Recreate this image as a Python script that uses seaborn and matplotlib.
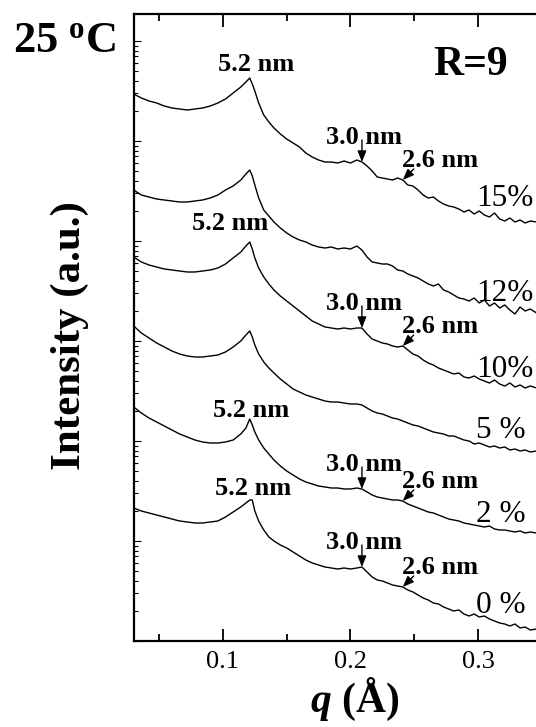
import numpy as np
import pandas as pd
import matplotlib
matplotlib.use("Agg")
import matplotlib.pyplot as plt
from matplotlib.ticker import LogLocator, NullFormatter, FixedLocator
import seaborn as sns

# scattering vector q (1/Angstrom), shared by all samples
q = [0.030, 0.036, 0.042, 0.048, 0.054, 0.060, 0.066, 0.072, 0.078, 0.084,
     0.090, 0.096, 0.102, 0.108, 0.114,
     0.118, 0.121, 0.123, 0.125, 0.128, 0.132, 0.136, 0.140,
     0.145, 0.150, 0.155, 0.160, 0.165, 0.170, 0.175, 0.180, 0.185, 0.190,
     0.195, 0.200, 0.205,
     0.209, 0.213, 0.217, 0.221, 0.225, 0.229, 0.233, 0.237, 0.241, 0.245,
     0.249, 0.253, 0.257, 0.261, 0.265, 0.269, 0.273, 0.277, 0.281, 0.285,
     0.289, 0.293, 0.297, 0.301, 0.305, 0.309, 0.313, 0.317, 0.321, 0.325,
     0.329, 0.333, 0.337, 0.341,
     0.346]

# log10 of the (vertically shifted) scattered intensity for each sample
lg_15 = [5.47, 5.43, 5.40, 5.38, 5.35, 5.33, 5.32, 5.31, 5.32, 5.33, 5.35, 5.38, 5.42, 5.48, 5.54,
         5.59, 5.63, 5.57, 5.50, 5.38, 5.26, 5.19, 5.13,
         5.07, 5.02, 4.98, 4.94, 4.88, 4.84, 4.81, 4.79, 4.79, 4.78, 4.80, 4.78, 4.81,
         4.79, 4.75, 4.70, 4.64, 4.63, 4.62, 4.61, 4.63, 4.61, 4.56, 4.55, 4.51, 4.46, 4.43,
         4.44, 4.40, 4.37, 4.35, 4.34, 4.32, 4.29, 4.31, 4.27, 4.30, 4.26, 4.24, 4.28, 4.22,
         4.20, 4.23, 4.19, 4.21, 4.18, 4.20,
         4.19]
lg_12 = [4.51, 4.46, 4.44, 4.42, 4.41, 4.40, 4.39, 4.39, 4.40, 4.41, 4.43, 4.46, 4.51, 4.55, 4.61,
         4.67, 4.71, 4.65, 4.56, 4.43, 4.31, 4.25, 4.19,
         4.13, 4.08, 4.04, 4.01, 3.99, 3.96, 3.94, 3.93, 3.94, 3.92, 3.93, 3.92, 3.95,
         3.91, 3.84, 3.79, 3.78, 3.77, 3.77, 3.75, 3.71, 3.70, 3.67, 3.65, 3.63, 3.60, 3.57,
         3.55, 3.57, 3.51, 3.49, 3.46, 3.43, 3.42, 3.40, 3.43, 3.38, 3.41, 3.35, 3.38, 3.33,
         3.36, 3.31, 3.27, 3.34, 3.30, 3.32,
         3.28]
lg_10 = [3.84, 3.79, 3.76, 3.74, 3.72, 3.71, 3.70, 3.69, 3.69, 3.70, 3.71, 3.73, 3.77, 3.83, 3.89,
         3.95, 3.99, 3.92, 3.83, 3.73, 3.64, 3.57, 3.51,
         3.45, 3.40, 3.35, 3.30, 3.25, 3.20, 3.17, 3.14, 3.13, 3.12, 3.13, 3.12, 3.13,
         3.13, 3.07, 3.02, 3.00, 2.98, 2.97, 2.95, 2.94, 2.95, 2.91, 2.87, 2.85, 2.81, 2.78,
         2.76, 2.73, 2.71, 2.69, 2.67, 2.68, 2.64, 2.63, 2.65, 2.62, 2.60, 2.58, 2.61, 2.57,
         2.55, 2.58, 2.54, 2.56, 2.53, 2.55,
         2.53]
lg_5 = [3.15, 3.08, 3.03, 2.98, 2.94, 2.90, 2.87, 2.85, 2.84, 2.84, 2.85, 2.86, 2.89, 2.94, 3.00,
        3.06, 3.10, 3.04, 2.96, 2.87, 2.79, 2.73, 2.68,
        2.62, 2.57, 2.52, 2.49, 2.46, 2.44, 2.42, 2.40, 2.39, 2.39, 2.38, 2.37, 2.37,
        2.36, 2.33, 2.30, 2.28, 2.27, 2.25, 2.23, 2.22, 2.20, 2.18, 2.16, 2.15, 2.13, 2.11,
        2.09, 2.08, 2.07, 2.05, 2.05, 2.03, 2.01, 2.00, 1.97, 1.98, 1.96, 1.94, 1.95, 1.93,
        1.94, 1.91, 1.92, 1.90, 1.91, 1.89,
        1.90]
lg_2 = [2.34, 2.28, 2.23, 2.19, 2.15, 2.11, 2.07, 2.04, 2.01, 1.99, 1.98, 1.98, 1.99, 2.01, 2.07,
        2.13, 2.22, 2.16, 2.09, 2.01, 1.93, 1.87, 1.81,
        1.75, 1.70, 1.66, 1.62, 1.59, 1.57, 1.55, 1.54, 1.53, 1.53, 1.52, 1.52, 1.53,
        1.52, 1.49, 1.46, 1.44, 1.43, 1.42, 1.41, 1.41, 1.40, 1.37, 1.35, 1.33, 1.31, 1.29,
        1.28, 1.26, 1.24, 1.22, 1.21, 1.20, 1.18, 1.17, 1.16, 1.15, 1.14, 1.15, 1.12, 1.11,
        1.11, 1.10, 1.09, 1.10, 1.08, 1.09,
        1.08]
lg_0 = [1.33, 1.30, 1.28, 1.26, 1.24, 1.22, 1.20, 1.19, 1.18, 1.18, 1.19, 1.20, 1.24, 1.29, 1.34,
        1.38, 1.41, 1.41, 1.30, 1.20, 1.11, 1.04, 1.00,
        0.96, 0.93, 0.89, 0.85, 0.81, 0.78, 0.76, 0.74, 0.73, 0.72, 0.73, 0.72, 0.73,
        0.74, 0.69, 0.64, 0.61, 0.60, 0.58, 0.56, 0.55, 0.54, 0.51, 0.49, 0.46, 0.43, 0.41,
        0.38, 0.37, 0.34, 0.32, 0.30, 0.31, 0.27, 0.25, 0.27, 0.24, 0.25, 0.22, 0.20, 0.18,
        0.17, 0.15, 0.17, 0.13, 0.14, 0.11,
        0.12]

samples = ["15%", "12%", "10%", "5 %", "2 %", "0 %"]
curves = [lg_15, lg_12, lg_10, lg_5, lg_2, lg_0]

# characteristic spacings (nm) and the q at which they are marked
peak_labels = ["5.2 nm", "3.0 nm", "2.6 nm"]
peak_q = [0.121, 0.209, 0.241]

# which samples carry which markers (5.2 nm label offsets in pixels)
samples_52 = {"15%": (6, 7), "10%": (-20, 12), "2 %": (1, 2), "0 %": (3, 5)}
samples_30 = ["15%", "10%", "2 %", "0 %"]
samples_26 = ["15%", "10%", "2 %", "0 %"]

# sample-name label anchors (q, log10 I of the baseline)
name_q = 0.2985
name_lg = {"15%": 4.35, "12%": 3.40, "10%": 2.64, "5 %": 2.03, "2 %": 1.19, "0 %": 0.28}

sns.set_theme(style="ticks")
plt.rcParams.update({
    "font.family": ["Liberation Serif", "DejaVu Serif"],
    "mathtext.fontset": "custom",
    "mathtext.rm": "Liberation Serif:bold",
    "mathtext.it": "Liberation Serif:italic:bold",
    "mathtext.bf": "Liberation Serif:bold",
    "text.color": "black",
    "axes.labelcolor": "black",
    "axes.edgecolor": "black",
    "xtick.color": "black",
    "ytick.color": "black",
})

rows = []
for name, lg in zip(samples, curves):
    for qq, v in zip(q, lg):
        rows.append({"q": qq, "I": 10 ** v, "sample": name})
df = pd.DataFrame(rows)

W, H = 536, 727
fig = plt.figure(figsize=(W / 100, H / 100), dpi=100)
ax = fig.add_axes([133.7 / W, 1 - 641 / H, 1 - 133.7 / W, (641 - 14) / H])
ax.set_yscale("log")

sns.lineplot(data=df, x="q", y="I", units="sample", estimator=None,
             color="black", lw=1.0, sort=False, legend=False, ax=ax)

ax.set_xlim(0.030, 0.3455)
ax.set_ylim(1, 10 ** 6.27)
ax.set_xlabel("")
ax.set_ylabel("")

ax.xaxis.set_major_locator(FixedLocator([0.1, 0.2, 0.3]))
ax.xaxis.set_minor_locator(FixedLocator([0.05, 0.15, 0.25]))
ax.set_xticklabels(["0.1", "0.2", "0.3"])
ax.yaxis.set_major_locator(LogLocator(base=10, numticks=100))
ax.yaxis.set_minor_locator(LogLocator(base=10, subs=np.arange(2, 10), numticks=100))
ax.yaxis.set_major_formatter(NullFormatter())
ax.yaxis.set_minor_formatter(NullFormatter())

ax.tick_params(axis="x", which="both", direction="in", top=True, bottom=True,
               labelsize=19, pad=7, width=1.3, labelcolor="black")
ax.tick_params(axis="x", which="major", length=9)
ax.tick_params(axis="x", which="minor", length=5)
ax.tick_params(axis="y", which="both", direction="in", left=True, right=False,
               labelleft=False, width=0.8)
ax.tick_params(axis="y", which="major", length=5)
ax.tick_params(axis="y", which="minor", length=3)

for side in ["left", "bottom", "top"]:
    ax.spines[side].set_linewidth(1.6)
ax.spines["right"].set_visible(False)

lookup = dict(zip(samples, curves))


def point(name, qv):
    return qv, 10 ** lookup[name][q.index(qv)]


bold = dict(fontsize=19, fontweight="bold", color="black")

# 5.2 nm peak labels
for name, (dx, dy) in samples_52.items():
    ax.annotate(peak_labels[0], xy=point(name, peak_q[0]), xytext=(dx, dy),
                textcoords="offset pixels", ha="center", va="baseline", **bold)

arrow = dict(arrowstyle="-|>,head_length=0.55,head_width=0.22", color="black",
             lw=1.0, shrinkA=0, shrinkB=0, mutation_scale=12)

# 3.0 nm markers
for name in samples_30:
    xy = point(name, peak_q[1])
    ax.annotate("", xy=xy, xytext=(0, 22), textcoords="offset pixels", arrowprops=arrow)
    ax.annotate(peak_labels[1], xy=xy, xytext=(2, 18), textcoords="offset pixels",
                ha="center", va="baseline", **bold)

# 2.6 nm markers
for name in samples_26:
    xy = point(name, peak_q[2])
    ax.annotate("", xy=xy, xytext=(11, 11), textcoords="offset pixels", arrowprops=arrow)
    ax.annotate(peak_labels[2], xy=xy, xytext=(37, 13), textcoords="offset pixels",
                ha="center", va="baseline", **bold)

# sample names
for name in samples:
    ax.text(name_q, 10 ** name_lg[name], name, fontsize=22.5, ha="left",
            va="baseline", color="black")

fig.text(13 / W, 1 - 52 / H, r"25 $^{\mathrm{o}}$C", fontsize=32, fontweight="bold",
         ha="left", va="baseline", color="black")
fig.text(433 / W, 1 - 75 / H, "R=9", fontsize=30, fontweight="bold",
         ha="left", va="baseline", color="black")
fig.text(70 / W, 1 - 336 / H, "Intensity (a.u.)", fontsize=31, fontweight="bold",
         rotation=90, ha="center", va="center", color="black")
fig.text(355 / W, 1 - 699 / H, r"$q$ (Å)", fontsize=30, fontweight="bold",
         ha="center", va="center", color="black")

fig.savefig("out.png", dpi=100)
